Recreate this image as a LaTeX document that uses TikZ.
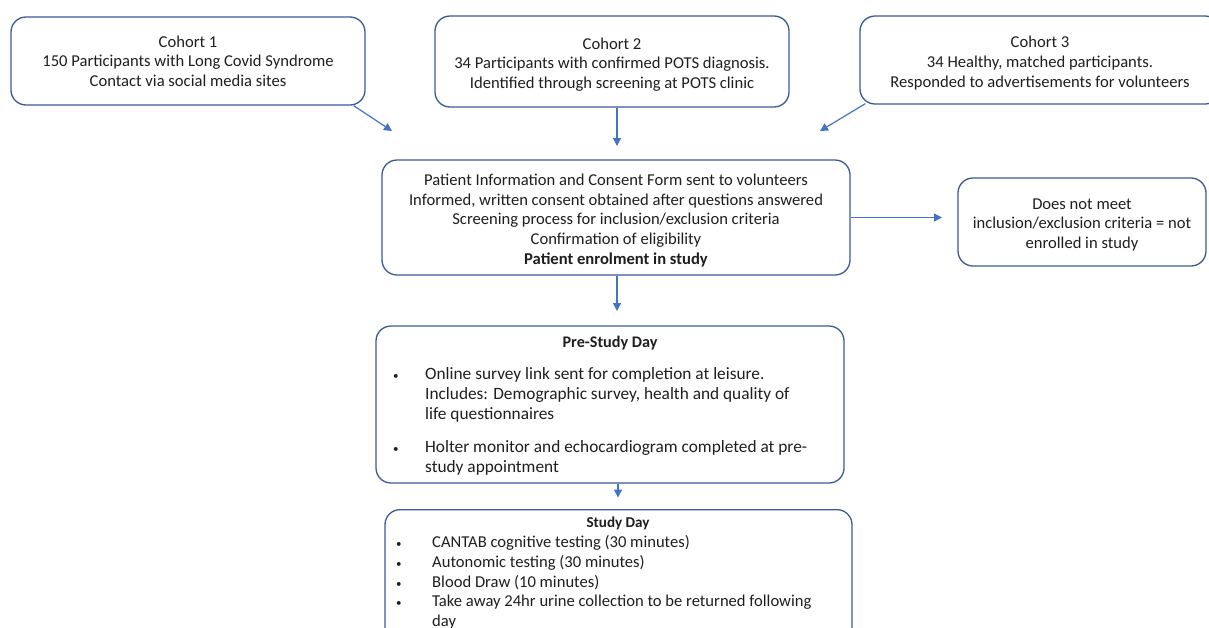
\documentclass[tikz,border=0pt]{standalone}
\usepackage{fontspec}
\setmainfont{Carlito}
\usepackage{xcolor}
\usepackage{tikz}
\usetikzlibrary{positioning,arrows.meta,calc}
\definecolor{fborder}{HTML}{3B5A94}
\definecolor{farrow}{HTML}{4472C4}
\definecolor{ftext}{HTML}{1E1E1E}
\newcommand{\smallbul}{{\fontsize{11}{11}\selectfont\textbullet}}
\newcommand{\topgap}[1]{\rule{0pt}{#1}}

\begin{document}
\begin{tikzpicture}[x=1pt, y=-1pt, text=ftext,
  box/.style={draw=fborder, line width=1.3pt, rounded corners=15pt, align=center, inner sep=0pt,
    font=\fontsize{16.6}{19.7}\selectfont},
  arr/.style={draw=farrow, line width=1.2pt, -{Triangle[length=8pt, width=8pt]}}]
\useasboundingbox (0,0) rectangle (1209,627);
\clip (0,0) rectangle (1209,627);
% cohorts
\node[box, minimum width=354pt, minimum height=88pt] (coh1) at (188,61)
  {Cohort 1\\150 Participants with Long Covid Syndrome\\Contact via social media sites};
\node[box, minimum width=354pt, minimum height=91pt] (coh2) at (612,61.5)
  {\topgap{17.5pt}Cohort 2\\34 Participants with confirmed POTS diagnosis.\\Identified through screening at POTS clinic};
\node[box, minimum width=360pt, minimum height=88pt] (coh3) at (1040,60)
  {\topgap{17.5pt}Cohort 3\\34 Healthy, matched participants.\\Responded to advertisements for volunteers};
% consent and screening
\node[box, minimum width=468pt, minimum height=115pt] (consent) at (616,217.5)
  {\topgap{17.5pt}Patient Information and Consent Form sent to volunteers\\
   Informed, written consent obtained after questions answered\\
   Screening process for inclusion/exclusion criteria\\
   Confirmation of eligibility\\
   \textbf{Patient enrolment in study}};
\node[box, minimum width=248pt, minimum height=88pt] (excluded) at (1082,222)
  {\topgap{16.5pt}Does not meet\\inclusion/exclusion criteria = not\\enrolled in study};
% pre-study day
\node[box, minimum width=468pt, minimum height=157pt] (prestudy) at (610,404.5) {};
\node[font=\bfseries\fontsize{16.2}{18}\selectfont, inner sep=0pt] (pretitle) at (610,343) {Pre-Study Day};
\node[anchor=north west, inner sep=0pt, align=left, font=\fontsize{17.3}{19.6}\selectfont] (prelist) at (393,366)
  {\begin{tabular}{@{}p{32pt}@{}l@{}}
   \smallbul & Online survey link sent for completion at leisure.\\
             & Includes: Demographic survey, health and quality of\\
             & life questionnaires\\[14pt]
   \smallbul & Holter monitor and echocardiogram completed at pre-\\
             & study appointment
   \end{tabular}};
% study day
\node[box, minimum width=467pt, minimum height=150pt, anchor=north] (studyday) at (618.5,509) {};
\node[font=\bfseries\fontsize{15.1}{17}\selectfont, inner sep=0pt] (studytitle) at (618,523) {Study Day};
\node[anchor=north west, inner sep=0pt, align=left, font=\fontsize{16.6}{19.6}\selectfont] (studylist) at (396,534)
  {\begin{tabular}{@{}p{36pt}@{}l@{}}
   \smallbul & CANTAB cognitive testing (30 minutes)\\
   \smallbul & Autonomic testing (30 minutes)\\
   \smallbul & Blood Draw (10 minutes)\\
   \smallbul & Take away 24hr urine collection to be returned following\\
             & day
   \end{tabular}};
% connectors
\coordinate (in1) at (392,131);
\coordinate (in2) at (617,146);
\coordinate (in3) at (820,131);
\coordinate (inex) at (942,217.5);
\coordinate (inpre) at (617,311);
\coordinate (instudy) at (618,497.5);
\draw[arr] ($(coh1.south east)+(-12,0)$) -- (in1);
\draw[arr] (coh2.south -| in2) -- (in2);
\draw[arr] ($(coh3.south west)+(6,-1)$) -- (in3);
\draw[arr] (consent.east) -- (inex);
\draw[arr] (consent.south -| inpre) -- (inpre);
\draw[arr] (prestudy.south -| instudy) -- (instudy);
\end{tikzpicture}
\end{document}
